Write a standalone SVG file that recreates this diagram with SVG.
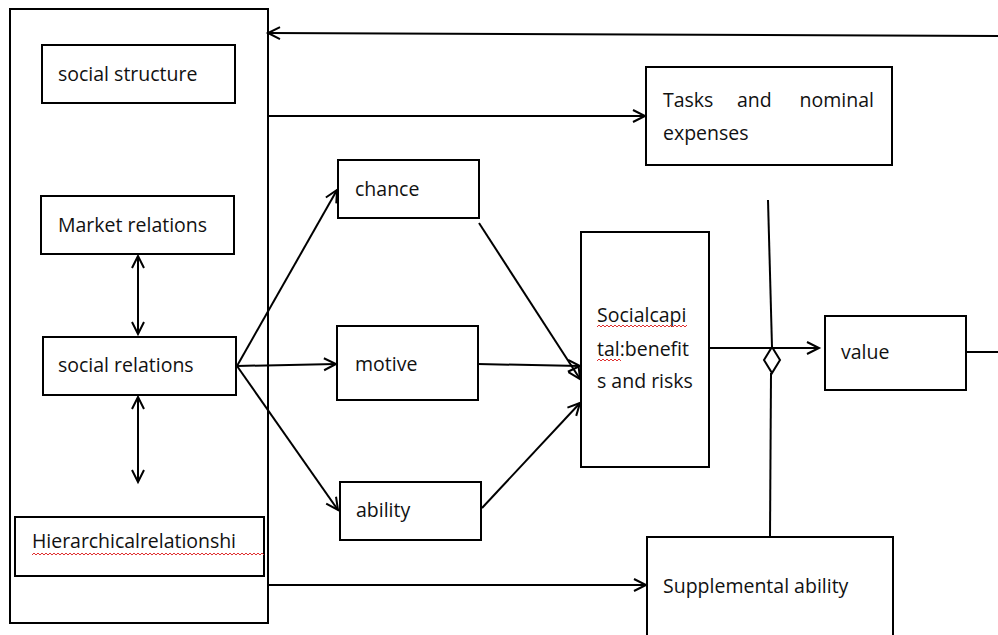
<svg xmlns="http://www.w3.org/2000/svg" width="998" height="635" viewBox="0 0 998 635">
<style>
.box{fill:#fff;stroke:#000;stroke-width:2}
.frame{fill:none;stroke:#000;stroke-width:2}
.t{font-family:"Open Sans","Liberation Sans",sans-serif;font-size:19.5px;fill:#111}
.c{fill:none;stroke:#000;stroke-width:2}
.sq{fill:none;stroke:#e03030;stroke-width:1}
</style>
<defs>
<marker id="ah" markerUnits="userSpaceOnUse" markerWidth="16" markerHeight="16" refX="13" refY="7" orient="auto-start-reverse" viewBox="0 0 16 14">
<path d="M1,1 L13,7 L1,13" fill="none" stroke="#000" stroke-width="2"/>
</marker>
</defs>
<g id="outer"><rect class="frame" x="10" y="9" width="258" height="614"/></g>
<g id="social-structure"><rect class="box" x="42" y="45" width="193" height="58"/><text class="t" x="58" y="81">social structure</text></g>
<g id="market-relations"><rect class="box" x="41" y="196" width="193" height="58"/><text class="t" x="58" y="232">Market relations</text></g>
<g id="social-relations"><rect class="box" x="43" y="337" width="193" height="58"/><text class="t" x="58" y="372">social relations</text></g>
<g id="hierarchical"><rect class="box" x="15" y="517" width="249" height="59"/><text class="t" x="32" y="548" textLength="204">Hierarchicalrelationshi</text>
<path class="sq" d="M32,555 l2,-2 l2,2 l2,-2 l2,2 l2,-2 l2,2 l2,-2 l2,2 l2,-2 l2,2 l2,-2 l2,2 l2,-2 l2,2 l2,-2 l2,2 l2,-2 l2,2 l2,-2 l2,2 l2,-2 l2,2 l2,-2 l2,2 l2,-2 l2,2 l2,-2 l2,2 l2,-2 l2,2 l2,-2 l2,2 l2,-2 l2,2 l2,-2 l2,2 l2,-2 l2,2 l2,-2 l2,2 l2,-2 l2,2 l2,-2 l2,2 l2,-2 l2,2 l2,-2 l2,2 l2,-2 l2,2 l2,-2 l2,2 l2,-2 l2,2 l2,-2 l2,2 l2,-2 l2,2 l2,-2 l2,2 l2,-2 l2,2 l2,-2 l2,2 l2,-2 l2,2 l2,-2 l2,2 l2,-2 l2,2 l2,-2 l2,2 l2,-2 l2,2 l2,-2 l2,2 l2,-2 l2,2 l2,-2 l2,2 l2,-2 l2,2 l2,-2 l2,2 l2,-2 l2,2 l2,-2 l2,2 l2,-2 l2,2 l2,-2 l2,2 l2,-2 l2,2 l2,-2 l2,2 l2,-2 l2,2 l2,-2 l2,2 l2,-2 l2,2 l2,-2 l2,2 l2,-2 l2,2 l2,-2 l2,2 l2,-2 l2,2 l2,-2 l2,2 l2,-2 l2,2 l2,-2 l2,2"/></g>
<g id="tasks"><rect class="box" x="646" y="67" width="246" height="98"/><text class="t" x="663" y="107">Tasks</text><text class="t" x="737" y="107">and</text><text class="t" x="874" y="107" text-anchor="end">nominal</text><text class="t" x="663" y="140">expenses</text></g>
<g id="chance"><rect class="box" x="338" y="160" width="141" height="58"/><text class="t" x="355" y="196">chance</text></g>
<g id="motive"><rect class="box" x="337" y="326" width="141" height="74"/><text class="t" x="355" y="371">motive</text></g>
<g id="ability"><rect class="box" x="340" y="482" width="141" height="58"/><text class="t" x="356" y="517">ability</text></g>
<g id="social-capital"><rect class="box" x="581" y="232" width="128" height="235"/>
<text class="t" x="597" y="322">Socialcapi</text><text class="t" x="597" y="356">tal:benefit</text><text class="t" x="597" y="388">s and risks</text>
<path class="sq" d="M597,327 l2,-2 l2,2 l2,-2 l2,2 l2,-2 l2,2 l2,-2 l2,2 l2,-2 l2,2 l2,-2 l2,2 l2,-2 l2,2 l2,-2 l2,2 l2,-2 l2,2 l2,-2 l2,2 l2,-2 l2,2 l2,-2 l2,2 l2,-2 l2,2 l2,-2 l2,2 l2,-2 l2,2 l2,-2 l2,2 l2,-2 l2,2 l2,-2 l2,2 l2,-2 l2,2 l2,-2 l2,2 l2,-2 l2,2 l2,-2 l2,2 l2,-2"/>
<path class="sq" d="M597,361 l2,-2 l2,2 l2,-2 l2,2 l2,-2 l2,2 l2,-2 l2,2 l2,-2 l2,2 l2,-2 l2,2"/></g>
<g id="value"><rect class="box" x="825" y="316" width="141" height="74"/><text class="t" x="841" y="359">value</text></g>
<g id="supplemental"><rect class="box" x="647" y="537" width="246" height="100"/><text class="t" x="663" y="593">Supplemental ability</text></g>
<g id="connectors">
<line class="c" x1="998" y1="36" x2="268" y2="33" marker-end="url(#ah)"/>
<line class="c" x1="268" y1="116" x2="645" y2="116" marker-end="url(#ah)"/>
<line class="c" x1="268" y1="585" x2="646" y2="585" marker-end="url(#ah)"/>
<line class="c" x1="138" y1="256" x2="138" y2="334" marker-start="url(#ah)" marker-end="url(#ah)"/>
<line class="c" x1="138" y1="397" x2="138" y2="482" marker-start="url(#ah)" marker-end="url(#ah)"/>
<line class="c" x1="237" y1="366" x2="337" y2="190" marker-end="url(#ah)"/>
<line class="c" x1="237" y1="366" x2="336" y2="364" marker-end="url(#ah)"/>
<line class="c" x1="237" y1="366" x2="338" y2="510" marker-end="url(#ah)"/>
<line class="c" x1="479" y1="223" x2="580" y2="379" marker-end="url(#ah)"/>
<line class="c" x1="478" y1="364" x2="580" y2="366" marker-end="url(#ah)"/>
<line class="c" x1="482" y1="508" x2="580" y2="403" marker-end="url(#ah)"/>
<line class="c" x1="709" y1="348" x2="819" y2="348" marker-end="url(#ah)"/>
<line class="c" x1="966" y1="352" x2="998" y2="352"/>
<polyline class="c" points="768,200 772,347"/>
<path d="M772,347 L780,360 L772,373 L764,360 Z" fill="#fff" stroke="#000" stroke-width="2"/>
<line class="c" x1="771" y1="373" x2="770" y2="537"/>
</g>
</svg>
